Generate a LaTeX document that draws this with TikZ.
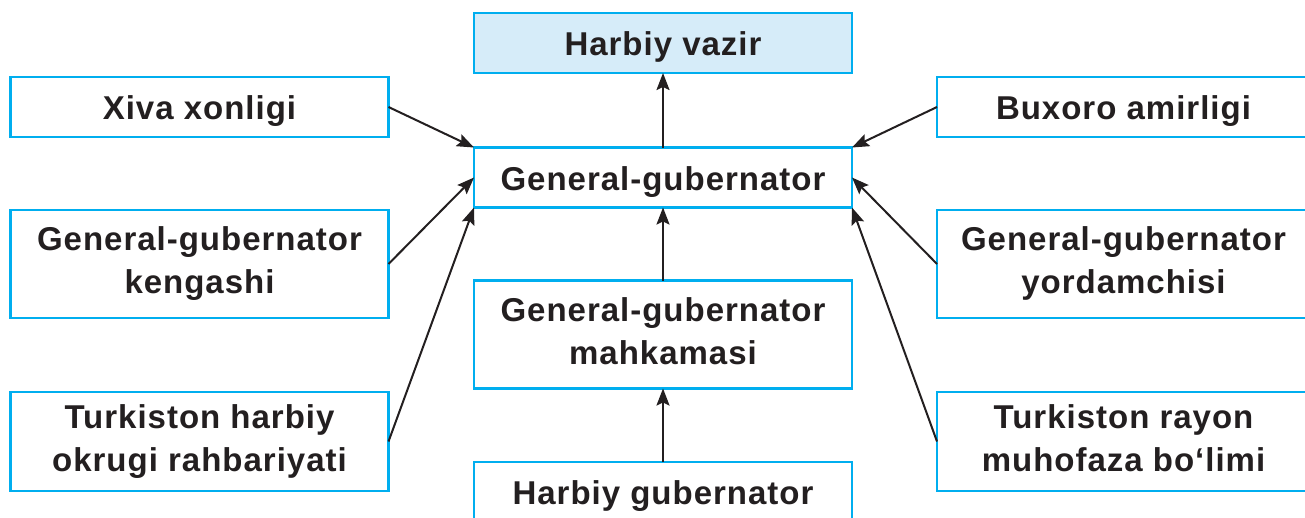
\documentclass[tikz,border=0pt]{standalone}
\usepackage{fontspec}
\setmainfont{Liberation Sans}[LetterSpace=3.0]
\usetikzlibrary{arrows.meta}
\definecolor{boxline}{HTML}{00AEEF}
\definecolor{boxfill}{HTML}{D6ECF9}
\definecolor{ink}{HTML}{231F20}
\begin{document}
\begin{tikzpicture}
  [x=1pt,y=-1pt,
   every node/.style={draw=boxline,line width=2.6pt,fill=white,text=ink,
     font=\fontsize{33}{43}\selectfont\bfseries,align=center,
     minimum width=378pt,inner sep=0pt,outer sep=0pt,
     execute at begin node=\rule{0pt}{32pt},
     execute at end node=\rule[-7pt]{0pt}{7pt}},
   onerow/.style={minimum height=60pt},
   tworow/.style={minimum height=108pt,execute at begin node=\rule{0pt}{38pt}},
   link/.style={draw=ink,line width=2pt,-{Stealth[length=17pt,width=13pt,inset=3pt]}}]
  \useasboundingbox (0,0) rectangle (1305,517);
  % middle column
  \node[onerow,fill=boxfill] (vazir) at (663,43) {Harbiy vazir};
  \node[onerow] (gg) at (663,177.5) {General-gubernator};
  \node[tworow] (mahk) at (663,334.5) {General-gubernator\\mahkamasi};
  \node[onerow] (hgub) at (663,492) {Harbiy gubernator};
  % left column
  \node[onerow] (xiva) at (199.5,107) {Xiva xonligi};
  \node[tworow] (keng) at (199.5,264) {General-gubernator\\kengashi};
  \node[tworow,minimum height=99pt] (okrug) at (199.5,441.5) {Turkiston harbiy\\okrugi rahbariyati};
  % right column
  \node[onerow,minimum width=373pt] (buxoro) at (1123.5,107) {Buxoro amirligi};
  \node[tworow,minimum width=373pt] (yord) at (1123.5,264) {General-gubernator\\yordamchisi};
  \node[tworow,minimum width=373pt,minimum height=99pt] (rayon) at (1123.5,441.5) {Turkiston rayon\\muhofaza bo‘limi};

  \foreach \from/\to in {gg.north/vazir.south,mahk.north/gg.south,hgub.north/mahk.south,
      xiva.east/gg.north west,keng.east/gg.west,okrug.east/gg.south west,
      buxoro.west/gg.north east,yord.west/gg.east,rayon.west/gg.south east}
    \draw[link] (\from) -- (\to);

\end{tikzpicture}
\end{document}
